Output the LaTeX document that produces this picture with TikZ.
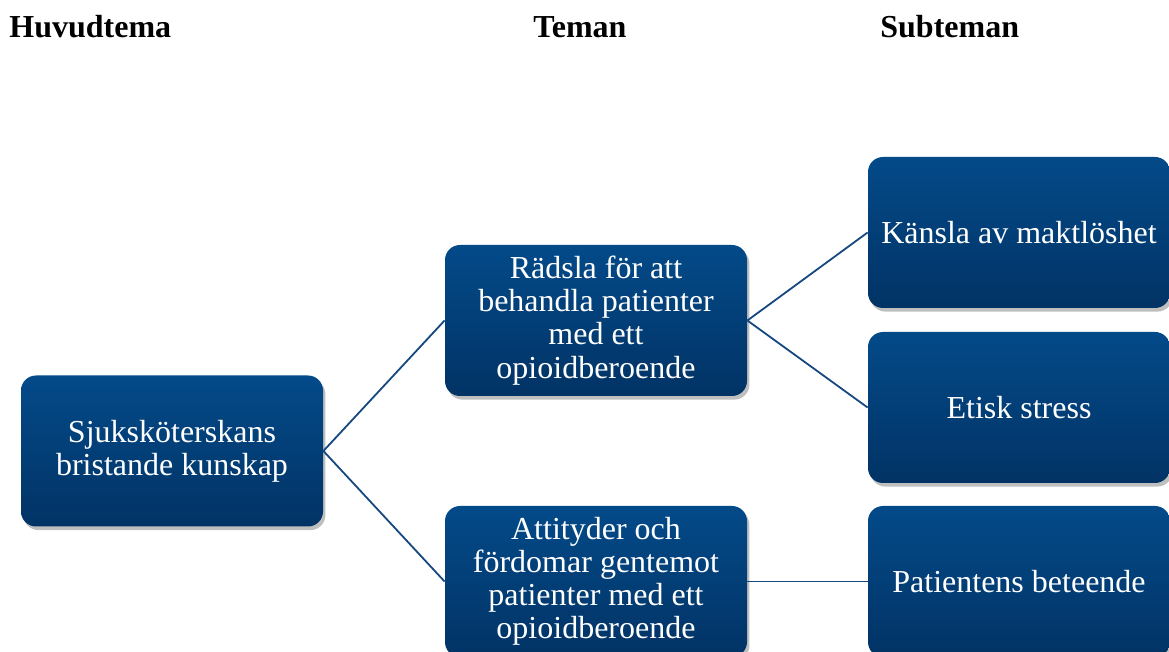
\documentclass[tikz,border=0pt]{standalone}
\usepackage{fontspec}
\setmainfont{Liberation Serif}
\usetikzlibrary{shadows}
\definecolor{boxtop}{RGB}{3,74,137}
\definecolor{boxbot}{RGB}{2,51,101}
\definecolor{linkblue}{RGB}{22,72,128}
\tikzset{
  themebox/.style={rectangle, rounded corners=7.5pt, minimum width=151pt, minimum height=75.5pt,
    inner sep=0pt, top color=boxtop, bottom color=boxbot, draw=none,
    drop shadow={shadow xshift=1.2pt, shadow yshift=-1.8pt, opacity=0.25, fill=black},
    text=white, align=center, font=\fontsize{16pt}{16.6pt}\selectfont},
  header/.style={anchor=base west, inner sep=0pt, font=\fontsize{16pt}{16.6pt}\selectfont\bfseries},
  link/.style={draw=linkblue, line width=0.9pt}
}
\begin{document}
\begin{tikzpicture}[x=0.5pt,y=-0.5pt]
\useasboundingbox (0,0) rectangle (1169,652);
\clip (0,0) rectangle (1169,652);
\node[header] (h1) at (9,38) {Huvudtema};
\node[header] (h2) at (533,38) {Teman};
\node[header] (h3) at (880,38) {Subteman};

\node[themebox] (main) at (172,451) {Sjuksköterskans\\bristande kunskap};
\node[themebox] (fear) at (596,320.5) {Rädsla för att\\behandla patienter\\med ett\\opioidberoende};
\node[themebox] (att) at (596,581.5) {Attityder och\\fördomar gentemot\\patienter med ett\\opioidberoende};
\node[themebox] (kans) at (1019,232.5) {Känsla av maktlöshet};
\node[themebox] (etisk) at (1019,407.5) {Etisk stress};
\node[themebox] (beteende) at (1019,581.5) {Patientens beteende};

\draw[link] (main.east) -- (fear.west);
\draw[link] (main.east) -- (att.west);
\draw[link] (fear.east) -- (kans.west);
\draw[link] (fear.east) -- (etisk.west);
\draw[link] (att.east) -- (beteende.west);
\end{tikzpicture}
\end{document}
